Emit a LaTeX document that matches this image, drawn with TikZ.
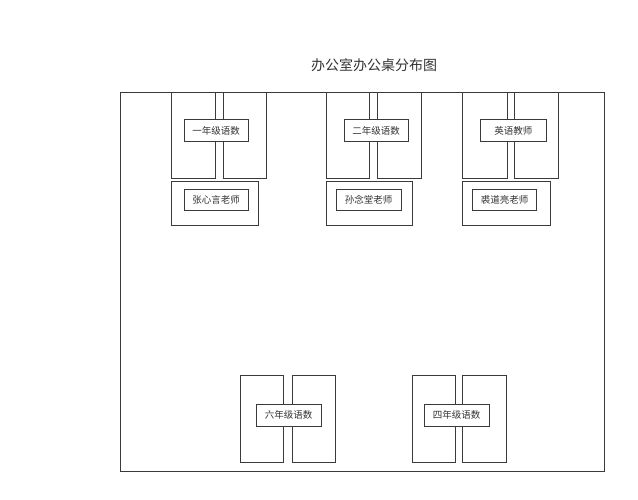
\documentclass[tikz,border=0pt]{standalone}
\usepackage{fontspec}
\newfontfamily\cjk{Noto Sans CJK SC}
\definecolor{ln}{HTML}{3A3A3A}
\definecolor{tx}{HTML}{333333}
\tikzset{
  room/.style={draw=ln, line width=0.9pt},
  desk/.style={draw=ln, line width=0.8pt, fill=white, inner sep=0pt, minimum width=43.5pt, minimum height=86.7pt},
  lbl/.style={draw=ln, line width=0.8pt, fill=white, inner sep=0pt, minimum width=64.5pt, minimum height=21.5pt, font=\cjk\fontsize{9.5}{10}\selectfont, text=tx},
  chair/.style={draw=ln, line width=0.8pt, fill=white, inner sep=0pt, minimum width=86.5pt, minimum height=43.3pt},
  ttl/.style={font=\cjk\fontsize{14}{16}\selectfont, text=tx, inner sep=0pt}
}
\begin{document}
\begin{tikzpicture}[x=1pt,y=-1pt]
\useasboundingbox (0,0) rectangle (638,500);
\node[ttl] (title) at (374,65) {办公室办公桌分布图};
\node[room, inner sep=0pt, minimum width=484pt, minimum height=379pt] (room) at (362,281.5) {};
% group 1
\node[desk] (d1l) at (193.5,135.35) {};
\node[desk, minimum width=42.7pt] (d1r) at (244.65,135.35) {};
\node[lbl] (l1) at (216.2,130.65) {一年级语数};
\node[chair] (c1) at (215,203.35) {};
\node[lbl, minimum height=20.7pt] (t1) at (216.2,199.65) {张心言老师};
% group 2
\node[desk] (d2l) at (348,135.35) {};
\node[desk] (d2r) at (399.5,135.35) {};
\node[lbl] (l2) at (376.2,130.65) {二年级语数};
\node[chair] (c2) at (369.3,203.35) {};
\node[lbl, minimum height=20.7pt] (t2) at (368.7,199.65) {孙念堂老师};
% group 3
\node[desk, minimum width=44.6pt] (d3l) at (485,135.35) {};
\node[desk, minimum width=44.7pt] (d3r) at (536.35,135.35) {};
\node[lbl, minimum width=65.3pt] (l3) at (513.35,130.65) {英语教师};
\node[chair, minimum width=87.3pt] (c3) at (506.35,203.35) {};
\node[lbl, minimum height=20.7pt] (t3) at (504.5,199.65) {裘道亮老师};
% bottom group 1
\node[desk, minimum height=87pt] (d4l) at (262,418.5) {};
\node[desk, minimum height=87pt] (d4r) at (313.65,418.5) {};
\node[lbl, minimum height=21.7pt] (l4) at (288.7,415.15) {六年级语数};
% bottom group 2
\node[desk, minimum height=87pt] (d5l) at (434,418.5) {};
\node[desk, minimum height=87pt, minimum width=44pt] (d5r) at (484.7,418.5) {};
\node[lbl, minimum height=21.7pt] (l5) at (456.65,415.15) {四年级语数};
\end{tikzpicture}
\end{document}
